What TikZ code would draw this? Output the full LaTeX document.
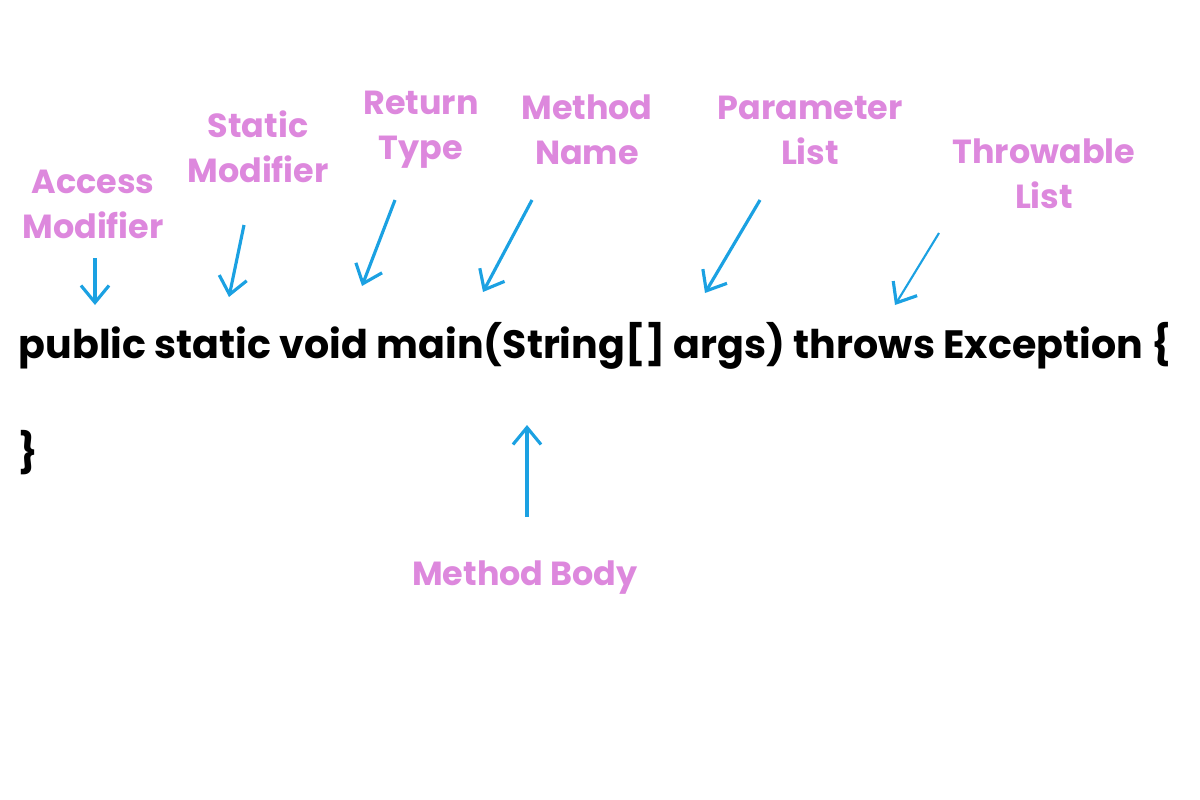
\documentclass[tikz,border=0pt]{standalone}
\usepackage{fontspec}
\usepackage{tikz}
\usetikzlibrary{arrows.meta}
\setmainfont{Poppins}
\definecolor{labelpink}{RGB}{221,136,221}
\definecolor{arrowblue}{RGB}{27,161,226}
\tikzset{
    part/.style={
           text=labelpink,
           font=\bfseries\fontsize{9.5}{12.8}\selectfont,
           align=center,
           inner sep=0pt,
           },
    code/.style={
           text=black,
           font=\bfseries\fontsize{11.25}{12}\selectfont,
           inner sep=0pt,
           anchor=base west,
           },
    pointer/.style={
           draw=arrowblue,
           line width=0.9pt,
           -{Straight Barb[length=1.7mm,width=2.8mm,line width=0.9pt]},
           },
}
\begin{document}
\begin{tikzpicture}[x=0.01cm,y=-0.01cm]
    \useasboundingbox (0,0) rectangle (1200,800);

    % the method header and its closing brace
    \node[code] (header) at (18,358)
    {public static void main(String[] args) throws Exception \{};
    \node[code] (closing) at (18,466) {\}};

    % labels above the header
    \node[part] (access) at (93,204) {Access\\Modifier};
    \node[part] (static) at (258,147) {Static\\Modifier};
    \node[part] (return) at (421,130) {Return\\Type};
    \node[part] (name) at (587,130) {Method\\Name};
    \node[part] (params) at (810,130) {Parameter\\List};
    \node[part] (throws) at (1044,174) {Throwable\\List};

    % label below the header
    \node[part] (body) at (525,578) {Method Body};

    % ends of the pointers
    \coordinate (access-t) at (95,258);
    \coordinate (access-h) at (95,305);
    \coordinate (static-t) at (244,225);
    \coordinate (static-h) at (229,297);
    \coordinate (return-t) at (395,200);
    \coordinate (return-h) at (362,286);
    \coordinate (name-t) at (532,200);
    \coordinate (name-h) at (483,292);
    \coordinate (params-t) at (760,200);
    \coordinate (params-h) at (705,293);
    \coordinate (throws-t) at (939,233);
    \coordinate (throws-h) at (895,305);
    \coordinate (body-t) at (527,517);
    \coordinate (body-h) at (527,425);

    % draw the pointers
    \draw[pointer] (access-t) -- (access-h);
    \draw[pointer] (static-t) -- (static-h);
    \draw[pointer] (return-t) -- (return-h);
    \draw[pointer] (name-t) -- (name-h);
    \draw[pointer] (params-t) -- (params-h);
    \draw[pointer, line width=0.6pt] (throws-t) -- (throws-h);
    \draw[pointer] (body-t) -- (body-h);
\end{tikzpicture}
\end{document}
